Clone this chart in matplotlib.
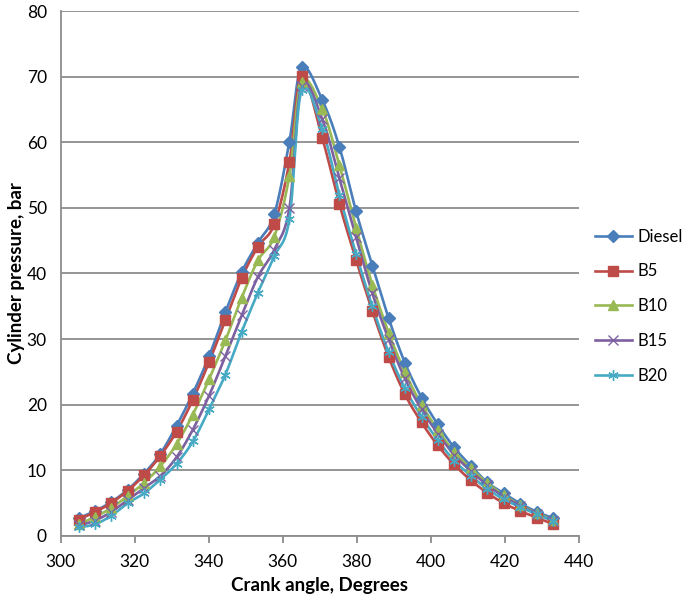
import numpy as np
import matplotlib
matplotlib.use("Agg")
import matplotlib.pyplot as plt
from matplotlib.lines import Line2D

# ---------------- data ----------------
crank_angle = [304.9, 309.3, 313.7, 318.1, 322.5, 326.9, 331.3, 335.7, 340.1, 344.5,
               348.9, 353.3, 357.7, 361.8, 365.1, 370.7, 375.3, 379.8, 384.2, 388.6,
               393.0, 397.5, 401.9, 406.3, 410.8, 415.2, 419.7, 424.2, 428.6, 433.1]

diesel = [2.7, 3.8, 5.2, 7.05, 9.5, 12.5, 16.8, 21.7, 27.4, 34.1,
          40.2, 44.7, 49.0, 60.1, 71.4, 66.4, 59.3, 49.5, 41.2, 33.2,
          26.4, 21.1, 17.0, 13.5, 10.7, 8.2, 6.5, 4.95, 3.7, 2.7]
b5 = [2.5, 3.65, 5.05, 6.9, 9.25, 12.2, 15.9, 20.75, 26.5, 32.9,
      39.3, 44.1, 47.5, 57.0, 70.1, 60.6, 50.6, 42.1, 34.3, 27.3,
      21.6, 17.3, 13.8, 10.9, 8.5, 6.6, 5.0, 3.8, 2.8, 1.8]
b10 = [1.8, 2.9, 4.3, 6.1, 8.1, 10.6, 14.0, 18.5, 23.9, 29.8,
       36.3, 42.0, 45.6, 54.9, 69.2, 65.0, 56.5, 47.0, 38.3, 31.0,
       25.0, 20.0, 16.2, 12.8, 10.3, 8.1, 6.2, 4.7, 3.5, 2.4]
b15 = [1.6, 2.35, 3.7, 5.5, 7.3, 9.15, 12.0, 16.2, 21.4, 27.4,
       33.6, 39.5, 43.6, 50.0, 68.6, 63.5, 54.5, 45.5, 37.0, 30.0,
       24.0, 19.3, 15.6, 12.4, 9.9, 7.8, 6.0, 4.6, 3.4, 2.3]
b20 = [1.3, 1.8, 3.1, 5.0, 6.5, 8.6, 11.0, 14.4, 19.3, 24.6,
       31.1, 37.1, 42.6, 48.3, 68.0, 62.0, 52.0, 43.0, 35.0, 28.0,
       22.5, 18.2, 14.6, 11.5, 9.2, 7.2, 5.6, 4.4, 3.3, 2.3]

series_names = ["Diesel", "B5", "B10", "B15", "B20"]
series_values = [diesel, b5, b10, b15, b20]

x_ticks = [300, 320, 340, 360, 380, 400, 420, 440]
y_ticks = [0, 10, 20, 30, 40, 50, 60, 70, 80]

# ---------------- styles ----------------
colors = ["#4A7EBB", "#BE4B48", "#98B954", "#7D60A0", "#46AAC5"]
markers = ["D", "s", "^", "x", (6, 2, 0)]
msizes = [6, 7, 7.5, 6.5, 7.5]
mews = [1, 1, 1, 1.0, 1.0]

FONT = ["Lato", "DejaVu Sans"]
plt.rcParams["font.family"] = FONT


def excel_smooth(x, y, n=24):
    """Excel-like smoothed line: cubic Bezier through points (tension 1/6)."""
    P = np.column_stack([np.asarray(x, float), np.asarray(y, float)])
    Pe = np.vstack([P[0], P, P[-1]])
    t = np.linspace(0, 1, n + 1)[1:][:, None]
    out = [P[:1]]
    for i in range(len(P) - 1):
        p0, p1, p2, p3 = Pe[i], Pe[i + 1], Pe[i + 2], Pe[i + 3]
        c1 = p1 + (p2 - p0) / 6.0
        c2 = p2 - (p3 - p1) / 6.0
        seg = ((1 - t) ** 3) * p1 + 3 * (1 - t) ** 2 * t * c1 + 3 * (1 - t) * t ** 2 * c2 + t ** 3 * p2
        out.append(seg)
    out = np.vstack(out)
    return out[:, 0], out[:, 1]


fig = plt.figure(figsize=(6.85, 5.98), dpi=100)
ax = fig.add_axes([0.0886, 0.1037, 0.845 - 0.0886, 0.9816 - 0.1037])

handles = []
for name, vals, c, m, ms, mew in zip(series_names, series_values, colors, markers, msizes, mews):
    xs, ys = excel_smooth(crank_angle, vals)
    ax.plot(xs, ys, color=c, lw=1.9, solid_capstyle="round", zorder=3)
    ax.plot(crank_angle, vals, ls="none", marker=m, ms=ms, color=c,
            mec=c, mfc=c, mew=mew, zorder=4)
    handles.append(Line2D([], [], color=c, lw=1.9, marker=m, ms=ms, mec=c, mfc=c, mew=mew, label=name))

ax.set_xlim(300, 440)
ax.set_ylim(0, 80)
ax.set_xticks(x_ticks)
ax.set_yticks(y_ticks)
ax.set_xticklabels([str(v) for v in x_ticks])
ax.set_yticklabels([str(v) for v in y_ticks])

ax.grid(axis="y", color="#8C8C8C", lw=1.3, zorder=0)
ax.set_axisbelow(True)
for s in ["top", "right"]:
    ax.spines[s].set_visible(False)
for s in ["left", "bottom"]:
    ax.spines[s].set_color("#8C8C8C")
    ax.spines[s].set_linewidth(1.3)

ax.tick_params(axis="x", direction="out", length=5, width=1.3, color="#8C8C8C",
               labelsize=12.5, pad=8, labelcolor="black")
ax.tick_params(axis="y", length=0, labelsize=12.5, pad=10, labelcolor="black")

ax.set_xlabel("Crank angle, Degrees", fontsize=13.5, fontweight="bold", labelpad=5)
ax.set_ylabel("Cylinder pressure, bar", fontsize=13.5, fontweight="bold", labelpad=1)

fig.legend(handles=handles, loc="center left", bbox_to_anchor=(0.868, 0.488),
           frameon=False, fontsize=12, handlelength=2.25, handletextpad=0.3,
           labelspacing=1.13, borderaxespad=0, borderpad=0)

fig.savefig("out.png", dpi=100)
